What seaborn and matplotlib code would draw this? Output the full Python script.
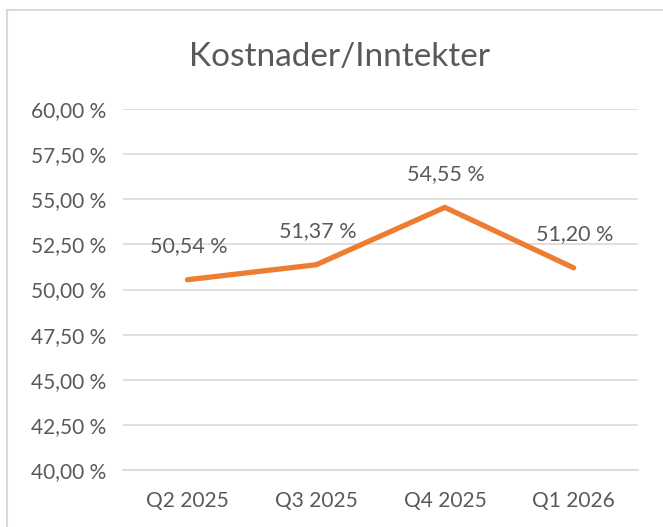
import matplotlib
matplotlib.use("Agg")
import matplotlib.pyplot as plt
import seaborn as sns
import pandas as pd
from matplotlib.patches import Rectangle

categories = ["Q2 2025", "Q3 2025", "Q4 2025", "Q1 2026"]
values = [50.54, 51.37, 54.55, 51.20]
yticks = [40.0, 42.5, 45.0, 47.5, 50.0, 52.5, 55.0, 57.5, 60.0]
title = "Kostnader/Inntekter"

def fmt(v):
    return f"{v:.2f}".replace(".", ",") + " %"

sns.set_theme(style="white")
plt.rcParams['font.family'] = ['Lato', 'DejaVu Sans']

text_c = "#595959"
grid_c = "#D9D9D9"
line_c = "#ED7D31"

fig = plt.figure(figsize=(6.63, 5.27), dpi=100)
fig.patch.set_facecolor("white")
ax = fig.add_axes([123/663, 1-470/527, (638-123)/663, (470-109)/527])

df = pd.DataFrame({"x": range(len(categories)), "v": values})
sns.lineplot(data=df, x="x", y="v", ax=ax, color=line_c, linewidth=3.8,
             solid_capstyle="round", solid_joinstyle="miter")

ax.set_ylim(40, 60)
ax.set_xlim(-0.5, len(categories) - 0.5)
ax.set_yticks(yticks)
ax.set_yticklabels([fmt(t) for t in yticks], color=text_c, fontsize=15)
ax.set_xticks(range(len(categories)))
ax.set_xticklabels(categories, color=text_c, fontsize=15)
ax.set_xticks([i - 0.5 for i in range(len(categories) + 1)], minor=True)
ax.tick_params(axis="x", which="major", length=0, pad=15)
ax.tick_params(axis="x", which="minor", length=5, width=1.2, color=grid_c, direction="out")
ax.tick_params(axis="y", length=0, pad=12)
for lab in ax.get_yticklabels():
    lab.set_horizontalalignment("right")
ax.set_xlabel("")
ax.set_ylabel("")

ax.grid(axis="y", color=grid_c, linewidth=1.2)
ax.grid(axis="x", visible=False)
for s in ["top", "right", "left"]:
    ax.spines[s].set_visible(False)
ax.spines["bottom"].set_color(grid_c)
ax.spines["bottom"].set_linewidth(1.2)
ax.set_axisbelow(True)

for i, v in enumerate(values):
    ax.annotate(fmt(v), (i, v), xytext=(1, 24), textcoords="offset points",
                ha="center", va="center", color=text_c, fontsize=15.5)

fig.text(340/663, 1-57/527, title, ha="center", va="center", color=text_c, fontsize=24)

fig.patches.append(Rectangle((7/663, -0.05), 1.0, 1 - 10/527 + 0.05, transform=fig.transFigure,
                             fill=False, edgecolor="#D9D9D9", linewidth=1.5, clip_on=False))

fig.savefig("out.png", dpi=100)
